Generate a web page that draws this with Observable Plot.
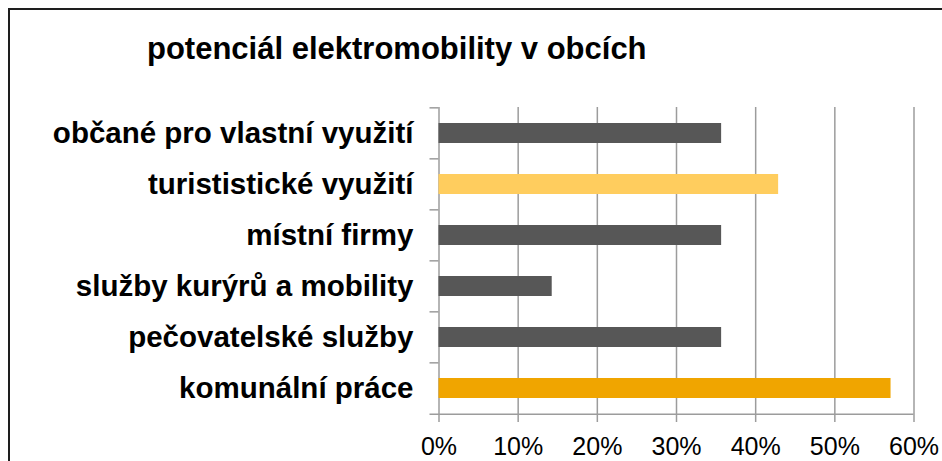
<!DOCTYPE html>
<html>
<head>
<meta charset="utf-8">
<script src="https://cdn.jsdelivr.net/npm/d3@7"></script>
<script src="https://cdn.jsdelivr.net/npm/@observablehq/plot@0.6"></script>
<style>
  html, body { margin: 0; padding: 0; background: #fff; overflow: hidden; }
  body { width: 942px; height: 461px; position: relative; font-family: "Liberation Sans", Arial, sans-serif; }
  #frame { position: absolute; left: 8px; top: 8px; width: 1000px; height: 1000px; border: 2px solid #1e1e1e; box-sizing: border-box; }
  #title { position: absolute; left: 147px; top: 33px; font-size: 31px; line-height: 31px; font-weight: bold; color: #000; white-space: nowrap; }
  #chart { position: absolute; left: 0; top: 70px; }
  #chart svg { overflow: visible; }
</style>
</head>
<body>
<div id="frame"></div>
<div id="title">potenciál elektromobility v obcích</div>
<div id="chart"></div>
<script>
const categories = [
  "občané pro vlastní využití",
  "turististické využití",
  "místní firmy",
  "služby kurýrů a mobility",
  "pečovatelské služby",
  "komunální práce"
];
const values = [0.357, 0.429, 0.357, 0.143, 0.357, 0.571];
const xTicks = [0, 0.1, 0.2, 0.3, 0.4, 0.5, 0.6];
const palette = ["#575757", "#FFCD5E", "#575757", "#575757", "#575757", "#F0A500"];

const data = categories.map((c, i) => ({category: c, value: values[i]}));

const H = 391, mTop = 37, mBottom = 46, mLeft = 438.5, mRight = 28.5, W = 942;
const step = (H - mTop - mBottom) / categories.length;
const gridColor = "#9c9c9c";
const tickLen = 9;
const xPerPx = 0.6 / (W - mLeft - mRight);

const chart = Plot.plot({
  width: W,
  height: H,
  marginTop: mTop,
  marginBottom: mBottom,
  marginLeft: mLeft,
  marginRight: mRight,
  style: {fontFamily: "'Liberation Sans', Arial, sans-serif", background: "transparent", color: "#000"},
  x: {domain: [0, 0.6], ticks: xTicks, tickFormat: d3.format(".0%")},
  y: {domain: categories, paddingInner: 0.6, paddingOuter: 0.3},
  color: {domain: categories, range: palette},
  marks: [
    Plot.ruleX(xTicks, {stroke: gridColor, strokeWidth: 1.5}),
    Plot.barX(data, {x: "value", y: "category", fill: "category"}),
    Plot.ruleY(categories, {y: d => d, dy: -step / 2, x1: -tickLen * xPerPx, x2: 0, stroke: gridColor, strokeWidth: 1.5}),
    Plot.ruleY(categories.slice(-1), {y: d => d, dy: step / 2, x1: -tickLen * xPerPx, x2: 0.6, stroke: gridColor, strokeWidth: 1.5}),
    Plot.axisX(xTicks, {tickSize: 7, tickPadding: 15, fontSize: 25, stroke: gridColor, strokeWidth: 1.5, fill: "#000", label: null, tickFormat: d3.format(".0%")}),
    Plot.axisY({tickSize: 0, tickPadding: 25.5, fontSize: 29.5, fontWeight: "bold", fill: "#000", label: null})
  ]
});
document.getElementById("chart").appendChild(chart);
</script>
</body>
</html>
